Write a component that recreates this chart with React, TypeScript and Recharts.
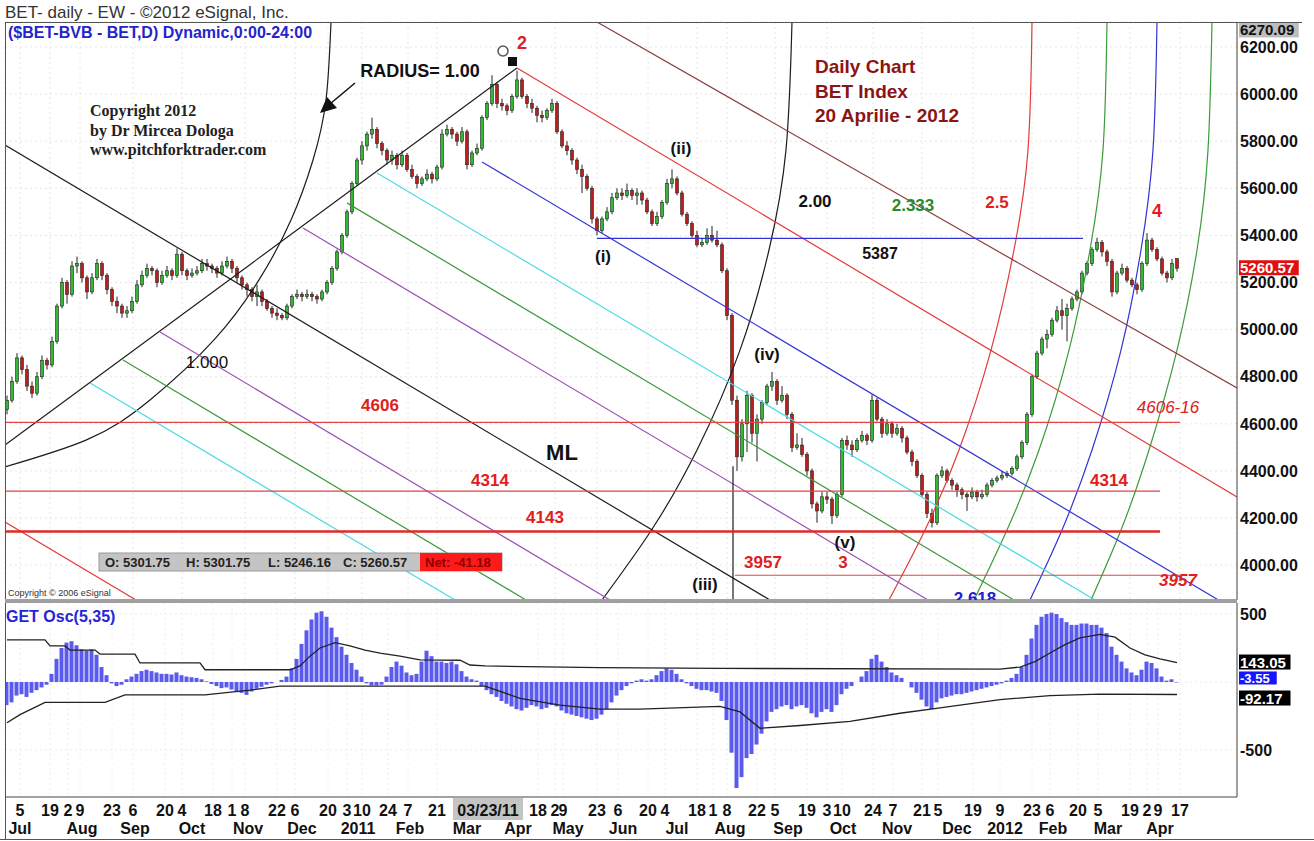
import React from 'react';
import { ComposedChart, Bar, Line, XAxis, YAxis, CartesianGrid, ReferenceDot } from 'recharts';

const FONT = 'Arial, "Liberation Sans", Helvetica, sans-serif';
const SERIF = '"Times New Roman", "Liberation Serif", serif';

// BET daily (one candle ~ two sessions): [open, high, low, close]
const candles2010 = [
  [4660, 4720, 4640, 4700], [4700, 4800, 4690, 4780], [4780, 4900, 4770, 4880], [4880, 4890, 4810, 4830], [4830, 4850, 4740, 4760],
  [4760, 4780, 4710, 4730], [4730, 4820, 4720, 4800], [4800, 4890, 4790, 4870], [4870, 4880, 4830, 4850], [4850, 4970, 4840, 4950],
  [4950, 5110, 4940, 5100], [5100, 5220, 5090, 5200], [5200, 5210, 5110, 5150], [5150, 5290, 5140, 5270], [5270, 5310, 5240, 5280],
  [5280, 5290, 5200, 5220], [5220, 5230, 5130, 5160], [5160, 5240, 5150, 5220], [5220, 5300, 5210, 5280], [5280, 5290, 5210, 5230],
  [5230, 5240, 5150, 5170], [5170, 5180, 5100, 5120], [5120, 5140, 5070, 5100], [5100, 5110, 5050, 5070], [5070, 5100, 5050, 5080],
  [5080, 5140, 5070, 5120], [5120, 5210, 5110, 5190], [5190, 5250, 5180, 5230], [5230, 5280, 5220, 5260], [5260, 5270, 5230, 5250],
  [5250, 5260, 5180, 5200], [5200, 5250, 5190, 5230], [5230, 5270, 5220, 5250], [5250, 5260, 5210, 5230], [5230, 5345, 5220, 5320],
  [5320, 5330, 5230, 5250], [5250, 5260, 5210, 5230], [5230, 5260, 5220, 5240], [5240, 5270, 5230, 5250], [5250, 5300, 5240, 5280],
  [5280, 5300, 5250, 5270], [5270, 5280, 5240, 5260], [5260, 5270, 5220, 5240], [5240, 5290, 5230, 5270], [5270, 5310, 5260, 5290],
  [5290, 5300, 5240, 5260], [5260, 5270, 5200, 5220], [5220, 5230, 5170, 5190], [5190, 5200, 5140, 5170], [5170, 5180, 5120, 5140],
  [5140, 5190, 5100, 5160], [5160, 5170, 5100, 5120], [5120, 5130, 5080, 5090], [5090, 5100, 5050, 5070], [5070, 5090, 5040, 5060],
  [5060, 5070, 5040, 5050], [5050, 5110, 5040, 5100], [5100, 5150, 5090, 5140], [5140, 5170, 5130, 5150], [5150, 5160, 5120, 5140],
];
const candles2011a = [
  [5140, 5170, 5130, 5150], [5150, 5160, 5120, 5140], [5140, 5150, 5110, 5130], [5130, 5170, 5120, 5160], [5160, 5210, 5150, 5200],
  [5200, 5270, 5190, 5260], [5260, 5340, 5250, 5330], [5330, 5410, 5320, 5400], [5400, 5510, 5390, 5500], [5500, 5630, 5490, 5620],
  [5620, 5730, 5610, 5720], [5720, 5800, 5700, 5780], [5780, 5840, 5760, 5830], [5830, 5900, 5810, 5850], [5850, 5860, 5770, 5790],
  [5790, 5800, 5740, 5760], [5760, 5770, 5700, 5720], [5720, 5760, 5700, 5740], [5740, 5750, 5680, 5700], [5700, 5760, 5690, 5740],
  [5740, 5750, 5670, 5680], [5680, 5700, 5640, 5650], [5650, 5660, 5600, 5620], [5620, 5650, 5610, 5640], [5640, 5680, 5630, 5660],
  [5660, 5670, 5620, 5640], [5640, 5700, 5630, 5690], [5690, 5850, 5680, 5830], [5830, 5870, 5820, 5850], [5850, 5860, 5810, 5830],
  [5830, 5840, 5780, 5800], [5800, 5860, 5790, 5840], [5840, 5850, 5680, 5700], [5700, 5760, 5690, 5750], [5750, 5790, 5740, 5770],
  [5770, 5910, 5760, 5900], [5900, 5970, 5890, 5960], [5960, 6080, 5950, 6040], [6040, 6050, 5940, 5960], [5960, 5980, 5930, 5950],
  [5950, 5960, 5910, 5930], [5930, 6000, 5920, 5990], [5990, 6100, 5980, 6060], [6060, 6070, 5980, 5990], [5990, 6000, 5940, 5960],
  [5960, 5980, 5920, 5940], [5940, 5950, 5880, 5910], [5910, 5930, 5880, 5900], [5900, 5940, 5890, 5930], [5930, 5980, 5920, 5960],
  [5960, 5970, 5830, 5840], [5840, 5850, 5770, 5780], [5780, 5800, 5740, 5760], [5760, 5770, 5700, 5720], [5720, 5730, 5660, 5680],
  [5680, 5700, 5580, 5650], [5650, 5660, 5590, 5600], [5600, 5610, 5450, 5470], [5470, 5480, 5400, 5420], [5420, 5480, 5410, 5470],
  [5470, 5520, 5460, 5500], [5500, 5580, 5490, 5560], [5560, 5600, 5550, 5580], [5580, 5600, 5550, 5570], [5570, 5620, 5560, 5590],
];
const candles2011b = [
  [5590, 5600, 5550, 5570], [5570, 5600, 5530, 5580], [5580, 5590, 5530, 5550], [5550, 5560, 5490, 5500], [5500, 5510, 5440, 5450],
  [5450, 5500, 5440, 5480], [5480, 5550, 5470, 5540], [5540, 5640, 5530, 5620], [5620, 5680, 5600, 5640], [5640, 5650, 5570, 5580],
  [5580, 5590, 5480, 5490], [5490, 5500, 5440, 5450], [5450, 5460, 5390, 5400], [5400, 5420, 5350, 5360], [5360, 5390, 5350, 5370],
  [5370, 5430, 5360, 5400], [5400, 5440, 5370, 5380], [5380, 5420, 5350, 5360], [5360, 5370, 5240, 5250], [5250, 5260, 5040, 5060],
  [5060, 5070, 4680, 4700], [4700, 4720, 4400, 4460], [4460, 4620, 4440, 4600], [4600, 4740, 4480, 4720], [4720, 4730, 4520, 4560],
  [4560, 4640, 4440, 4620], [4620, 4700, 4600, 4690], [4690, 4770, 4680, 4760], [4760, 4820, 4740, 4780], [4780, 4790, 4680, 4700],
  [4700, 4760, 4690, 4720], [4720, 4730, 4620, 4640], [4640, 4650, 4480, 4500], [4500, 4560, 4490, 4510], [4510, 4540, 4460, 4470],
  [4470, 4480, 4380, 4400], [4400, 4410, 4240, 4260], [4260, 4270, 4180, 4230], [4230, 4310, 4220, 4290], [4290, 4310, 4260, 4280],
  [4280, 4290, 4175, 4210], [4210, 4310, 4200, 4300], [4300, 4540, 4290, 4530], [4530, 4550, 4490, 4510], [4510, 4530, 4460, 4490],
  [4490, 4540, 4480, 4530], [4530, 4570, 4520, 4550], [4550, 4560, 4510, 4530], [4530, 4725, 4520, 4700], [4700, 4710, 4610, 4620],
  [4620, 4630, 4540, 4560], [4560, 4620, 4550, 4600], [4600, 4610, 4540, 4560], [4560, 4600, 4550, 4580], [4580, 4590, 4520, 4540],
  [4540, 4550, 4470, 4480], [4480, 4490, 4420, 4440], [4440, 4450, 4370, 4380], [4380, 4390, 4290, 4300], [4300, 4310, 4200, 4220],
  [4220, 4240, 4160, 4180], [4180, 4390, 4170, 4380], [4380, 4420, 4370, 4400], [4400, 4410, 4350, 4360], [4360, 4370, 4320, 4340],
  [4340, 4350, 4290, 4320], [4320, 4330, 4280, 4300], [4300, 4310, 4230, 4290], [4290, 4330, 4280, 4310], [4310, 4320, 4270, 4290],
  [4290, 4320, 4280, 4300], [4300, 4350, 4290, 4340], [4340, 4370, 4330, 4360],
];
const candles2012 = [
  [4360, 4380, 4350, 4370], [4370, 4400, 4360, 4380], [4380, 4400, 4370, 4390], [4390, 4420, 4380, 4410], [4410, 4470, 4400, 4460],
  [4460, 4530, 4450, 4520], [4520, 4650, 4510, 4640], [4640, 4810, 4630, 4800], [4800, 4910, 4790, 4900], [4900, 4970, 4890, 4960],
  [4960, 5000, 4920, 4980], [4980, 5050, 4970, 5040], [5040, 5100, 5030, 5080], [5080, 5130, 5000, 5060], [5060, 5110, 4950, 5090],
  [5090, 5140, 5080, 5130], [5130, 5170, 5120, 5160], [5160, 5250, 5150, 5240], [5240, 5290, 5230, 5280], [5280, 5350, 5270, 5340],
  [5340, 5390, 5330, 5370], [5370, 5380, 5310, 5330], [5330, 5340, 5270, 5290], [5290, 5300, 5140, 5160], [5160, 5250, 5150, 5240],
  [5240, 5280, 5230, 5260], [5260, 5270, 5200, 5210], [5210, 5220, 5180, 5190], [5190, 5200, 5150, 5170], [5170, 5290, 5160, 5280],
  [5280, 5410, 5270, 5380], [5380, 5390, 5330, 5340], [5340, 5350, 5290, 5300], [5300, 5310, 5230, 5240], [5240, 5250, 5200, 5220],
  [5220, 5300, 5210, 5280], [5301.75, 5301.75, 5246.16, 5260.57],
];

// GET Osc(5,35) histogram, same candle index
const oscValues = [
  -170, -150, -100, -90, -110, -80, -60, -40, -20, 60,
  170, 250, 290, 300, 270, 240, 230, 240, 200, 110,
  50, -10, -30, -20, 20, 40, 60, 80, 90, 80,
  70, 60, 60, 55, 70, 50, 40, 35, 30, 20,
  5, -15, -30, -45, -40, -55, -70, -80, -95, -70,
  -50, -35, -20, -10, 0, 15, 40, 100, 170, 280,
  380, 460, 510, 520, 480, 400, 330, 260, 200, 140,
  90, 40, -10, -25, -25, -20, 40, 110, 150, 120,
  70, 50, 60, 150, 230, 190, 150, 150, 140, 150,
  130, 80, 40, 20, 10, -30, -60, -90, -110, -140,
  -160, -180, -200, -210, -190, -170, -180, -200, -190, -170,
  -180, -210, -230, -240, -250, -260, -270, -280, -270, -240,
  -200, -150, -100, -60, -30, -10, 10, 20, 10, 20,
  50, 80, 100, 90, 60, 20, -10, -30, -50, -60,
  -60, -70, -80, -140, -280, -520, -780, -700, -560, -530,
  -460, -380, -290, -220, -200, -180, -170, -200, -180, -170,
  -190, -230, -260, -220, -200, -220, -170, -90, -50, -30,
  0, 40, 80, 170, 200, 150, 110, 70, 50, 30,
  0, -40, -80, -130, -180, -200, -150, -120, -110, -100,
  -90, -90, -80, -70, -60, -50, -40, -30, -20, -10,
  10, 30, 60, 110, 200, 320, 420, 480, 500, 510,
  500, 470, 440, 420, 420, 430, 430, 420, 420, 400,
  360, 260, 200, 150, 100, 70, 50, 90, 150, 140,
  100, 40, 10, 20, -3.55,
];
const upperBand = [
  [0, 310], [7.6, 310], [8.6, 265], [11.6, 265], [12.6, 235], [17.6, 235], [18.6, 205], [25.6, 205], [26.6, 140],
  [38.6, 140], [39.6, 90], [56.6, 90], [58.6, 118], [60.6, 190], [62.6, 250], [65.6, 290], [68.6, 265], [71.6, 235],
  [74.6, 213], [78.6, 190], [82.6, 162], [90.6, 160], [92.6, 125], [95.6, 118], [118.6, 105], [142.6, 100],
  [198.6, 95], [202.6, 110], [205.6, 150], [208.6, 213], [211.6, 275], [214.6, 325], [218.6, 350], [221.6, 330],
  [224.6, 250], [227.6, 200], [230.6, 170], [234, 143.05],
];
const lowerBand = [
  [0, -300], [2.6, -240], [7.6, -150], [19.6, -150], [23.6, -95], [39.6, -95], [48.6, -60], [54.6, -30], [95.6, -30],
  [102.6, -120], [110.6, -170], [118.6, -200], [126.6, -200], [142.6, -180], [146.6, -220], [150.6, -340],
  [158.6, -320], [168.6, -290], [178.6, -230], [186.6, -190], [198.6, -130], [208.6, -100], [218.6, -90], [234, -92.17],
];

const priceTicks = [4000, 4200, 4400, 4600, 4800, 5000, 5200, 5400, 5600, 5800, 6000, 6200];
const oscTicks = [500, -500];

const dayTicks: [number, string][] = [
  [2.6, '5'], [8.6, '19'], [12.2, '2'], [14.6, '9'], [21, '23'], [25.2, '6'], [31.6, '20'], [35, '4'], [41.2, '18'],
  [45, '1'], [47.6, '8'], [54, '22'], [57.6, '6'], [64.2, '20'], [68, '3'], [71, '10'], [76.2, '24'], [80.2, '7'],
  [86, '21'], [106.2, '18'], [109.6, '2'], [111.2, '9'], [118, '23'], [122.2, '6'], [128.2, '20'], [131.6, '4'],
  [138, '18'], [141.2, '1'], [144, '8'], [150, '22'], [153.6, '5'], [160, '19'], [164, '3'], [167, '10'],
  [173.2, '24'], [177.2, '7'], [183, '21'], [186.2, '5'], [193.2, '19'], [198.6, '9'], [205, '23'], [208.6, '6'],
  [214.2, '20'], [218.2, '5'], [224.6, '19'], [228, '2'], [230.2, '9'], [234.6, '17'],
];
const monthTicks: [number, string][] = [
  [2.6, 'Jul'], [15, 'Aug'], [25.6, 'Sep'], [37, 'Oct'], [48.2, 'Nov'], [59, 'Dec'], [70.2, '2011'], [80.6, 'Feb'],
  [92, 'Mar'], [102.2, 'Apr'], [112.2, 'May'], [123.2, 'Jun'], [134, 'Jul'], [144.6, 'Aug'], [156.2, 'Sep'],
  [167.2, 'Oct'], [178, 'Nov'], [190, 'Dec'], [199.6, '2012'], [209.2, 'Feb'], [220.2, 'Mar'], [230.6, 'Apr'],
];

// drawing tools, in [candle index, price]
const trendLines: { kind: string; pts: number[][] }[] = [
  { kind: 'black', pts: [[-0.4, 4510], [102, 6111]] },
  { kind: 'black', pts: [[-0.4, 5784], [152.6, 3852]] },
  { kind: 'red', pts: [[102, 6111], [246, 4289]] },
  { kind: 'brown', pts: [[118, 6306], [246, 4752]] },
  { kind: 'blue', pts: [[95, 5712], [246, 3805]] },
  { kind: 'cyan', pts: [[74, 5665], [217.6, 3852]] },
  { kind: 'green', pts: [[68, 5538], [201.4, 3852]] },
  { kind: 'purple', pts: [[59.2, 5431], [184.2, 3852]] },
  { kind: 'purple', pts: [[30.6, 4990], [120.6, 3852]] },
  { kind: 'green', pts: [[23.2, 4871], [103.8, 3852]] },
  { kind: 'cyan', pts: [[16.6, 4773], [89.6, 3852]] },
  { kind: 'red', pts: [[-0.4, 4183], [25.8, 3852]] },
  { kind: 'black', pts: [[145.2, 4420], [145.2, 3852]] },
];
const levels: { kind: string; price: number; from: number; to: number }[] = [
  { kind: 'level', price: 4606, from: -0.4, to: 234.6 },
  { kind: 'level', price: 4314, from: -0.4, to: 230.6 },
  { kind: 'levelBold', price: 4143, from: -0.4, to: 230.6 },
  { kind: 'level', price: 3957, from: 145.6, to: 234.6 },
  { kind: 'blue', price: 5387, from: 118, to: 215.2 },
];
const arcs: { kind: string; pts: number[][] }[] = [
  { kind: 'black', pts: [[64.8, 6306], [63.8, 5975], [61.2, 5720], [56.8, 5465], [50.4, 5211], [41.4, 4956], [28.6, 4701], [15.8, 4531], [-2.6, 4404]] },
  { kind: 'black', pts: [[157, 6306], [155.8, 5763], [152.4, 5338], [146.6, 4913], [138, 4489], [128.9, 4149], [119, 3852]] },
  { kind: 'red', pts: [[205, 6306], [204.2, 5763], [201.4, 5338], [196.8, 4913], [190.4, 4489], [183.6, 4149], [176.4, 3852]] },
  { kind: 'green', pts: [[220, 6306], [219.2, 5763], [216.6, 5338], [212.4, 4913], [206.4, 4489], [200, 4149], [193.4, 3852]] },
  { kind: 'blue', pts: [[230, 6306], [229.2, 5763], [226.8, 5338], [222.8, 4913], [217, 4489], [211, 4149], [204.6, 3852]] },
  { kind: 'green', pts: [[241, 6306], [240.2, 5763], [238, 5338], [234, 4913], [228.4, 4489], [222.8, 4149], [216.8, 3852]] },
];

const COLORS: Record<string, string> = {
  black: '#1c1c1c', red: '#e43a3a', brown: '#8e3c3c', blue: '#3333d6', cyan: '#4ad9e4',
  green: '#3b9b3b', purple: '#9b4fb8', level: '#e04444', levelBold: '#e02a2a',
};

const X_DOMAIN = [-0.4, 246];
const PRICE_DOMAIN = [3852, 6306];
const OSC_DOMAIN = [-846, 581];

const candles = [...candles2010, ...candles2011a, ...candles2011b, ...candles2012];
const priceData = candles.map(([o, h, l, c], i) => ({ i, o, h, l, c }));
const oscData = oscValues.map((v, i) => ({ i, v }));
const toPts = (pts: number[][]) => pts.map(([i, p]) => ({ i, p }));
const dayLabel = new Map(dayTicks);
const monthLabel = new Map(monthTicks);

function Candle(props: any) {
  const { x, y, width, height, payload } = props;
  if (!payload) return null;
  const top = Math.min(y, y + height);
  const full = Math.abs(height);
  const { o, h, l, c } = payload;
  const k = h > l ? full / (h - l) : 0;
  const yo = top + (h - o) * k;
  const yc = top + (h - c) * k;
  const mid = x + width / 2;
  return (
    <g>
      <line x1={mid} x2={mid} y1={top} y2={top + full} stroke="#222" strokeWidth={1} />
      <rect
        x={x}
        y={Math.min(yo, yc)}
        width={width}
        height={Math.max(1, Math.abs(yc - yo))}
        fill={c >= o ? '#33b833' : '#bf1c1c'}
        stroke="#222"
        strokeWidth={0.6}
      />
    </g>
  );
}

// value tag on the right axis; dy nudges crowded tags apart
const tag = (label: string, bg: string, fg: string, size = 15, dy = 0) => (p: any) => (
  <g>
    <rect x={p.cx + 2} y={p.cy + dy - size / 2 - 0.5} width={label.length * size * 0.55 + 2} height={size} fill={bg} />
    <text x={p.cx + 3} y={p.cy + dy + size / 3} fontSize={size} fontWeight={700} fill={fg} fontFamily={FONT}>
      {label}
    </text>
  </g>
);

type Note = { t: string; x: number; y: number; c?: string; s?: number; b?: boolean; it?: boolean; serif?: boolean; a?: 'start' | 'middle' };

const priceNotes: Note[] = [
  { t: '($BET-BVB - BET,D) Dynamic,0:00-24:00', x: 8, y: 32, c: '#2424cc', s: 16, a: 'start' },
  { t: 'Copyright 2012', x: 90, y: 110, c: '#222', s: 16, serif: true, a: 'start' },
  { t: 'by Dr Mircea Dologa', x: 90, y: 130, c: '#222', s: 16, serif: true, a: 'start' },
  { t: 'www.pitchforktrader.com', x: 90, y: 149, c: '#222', s: 16, serif: true, a: 'start' },
  { t: 'RADIUS= 1.00', x: 420, y: 71, s: 18 },
  { t: '2', x: 522, y: 43, c: '#e02020', s: 18 },
  { t: 'Daily Chart', x: 815, y: 66, c: '#8b1414', s: 19, a: 'start' },
  { t: 'BET Index', x: 815, y: 91, c: '#8b1414', s: 19, a: 'start' },
  { t: '20 Aprilie - 2012', x: 815, y: 115, c: '#8b1414', s: 19, a: 'start' },
  { t: '(ii)', x: 681, y: 148 },
  { t: '2.00', x: 815, y: 201 },
  { t: '2.333', x: 913, y: 205, c: '#2a8a2a' },
  { t: '2.5', x: 997, y: 202, c: '#e02020' },
  { t: '4', x: 1157, y: 211, c: '#e02020', s: 18 },
  { t: '(i)', x: 603, y: 256 },
  { t: '5387', x: 880, y: 253, s: 16 },
  { t: '1.000', x: 207, y: 362, s: 17, b: false },
  { t: '(iv)', x: 767, y: 354 },
  { t: '4606', x: 380, y: 405, c: '#e02020' },
  { t: '4606-16', x: 1168, y: 407, c: '#e02020', it: true, b: false },
  { t: 'ML', x: 562, y: 452, s: 22 },
  { t: '4314', x: 490, y: 480, c: '#e02020' },
  { t: '4314', x: 1109, y: 480, c: '#e02020' },
  { t: '4143', x: 545, y: 517, c: '#e02020' },
  { t: '(v)', x: 845, y: 542 },
  { t: '3957', x: 763, y: 562, c: '#e02020' },
  { t: '3', x: 843, y: 562, c: '#e02020' },
  { t: '3957', x: 1178, y: 580, c: '#e02020', it: true },
  { t: '(iii)', x: 705, y: 584 },
  { t: '2.618', x: 975, y: 598, c: '#2020d0' },
  { t: 'Copyright \u00a9 2006 eSignal', x: 8, y: 593, c: '#333', s: 9, b: false, a: 'start' },
];

const ohlcNotes: Note[] = [
  { t: 'O: 5301.75', x: 105, y: 562, s: 13, c: '#222', a: 'start' },
  { t: 'H: 5301.75', x: 186, y: 562, s: 13, c: '#222', a: 'start' },
  { t: 'L: 5246.16', x: 268, y: 562, s: 13, c: '#222', a: 'start' },
  { t: 'C: 5260.57', x: 343, y: 562, s: 13, c: '#222', a: 'start' },
  { t: 'Net: -41.18', x: 425, y: 562, s: 13, c: '#8a0000', a: 'start' },
];

function NoteText({ n }: { n: Note }) {
  return (
    <text
      x={n.x}
      y={n.y}
      fill={n.c ?? '#111'}
      fontSize={n.s ?? 17}
      fontWeight={n.b === false ? 400 : 700}
      fontStyle={n.it ? 'italic' : 'normal'}
      fontFamily={n.serif ? SERIF : FONT}
      textAnchor={n.a ?? 'middle'}
      dominantBaseline="central"
    >
      {n.t}
    </text>
  );
}

export default function App() {
  const axisTick = { fontSize: 16, fontWeight: 700, fill: '#111', fontFamily: FONT };
  return (
    <div style={{ position: 'absolute', left: 0, top: 0, width: 1314, height: 841, background: '#fff', overflow: 'hidden', fontFamily: FONT }}>
      <div style={{ position: 'absolute', left: 0, top: 0 }}>
        <ComposedChart width={1314} height={600} data={priceData} margin={{ top: 22, right: 0, bottom: 0, left: 5 }}>
          <CartesianGrid xAxisId="main" stroke="#e6e6e6" strokeDasharray="2 3" />
          <XAxis xAxisId="main" dataKey="i" type="number" domain={X_DOMAIN} allowDataOverflow hide ticks={dayTicks.map((d) => d[0])} />
          <XAxis xAxisId="ov" dataKey="i" type="number" domain={X_DOMAIN} allowDataOverflow hide />
          <YAxis
            orientation="right"
            width={77}
            domain={PRICE_DOMAIN}
            allowDataOverflow
            ticks={priceTicks}
            interval={0}
            tickFormatter={(v) => v.toFixed(2)}
            tick={axisTick}
            tickSize={0}
            tickMargin={3}
            axisLine={{ stroke: '#444' }}
          />
          {arcs.map((a, k) => (
            <Line key={'arc' + k} xAxisId="ov" data={toPts(a.pts)} dataKey="p" type="natural" stroke={COLORS[a.kind]} strokeWidth={1.2} dot={false} activeDot={false} isAnimationActive={false} />
          ))}
          {trendLines.map((t, k) => (
            <Line key={'tl' + k} xAxisId="ov" data={toPts(t.pts)} dataKey="p" type="linear" stroke={COLORS[t.kind]} strokeWidth={1.2} dot={false} activeDot={false} isAnimationActive={false} />
          ))}
          {levels.map((lv, k) => (
            <Line
              key={'lv' + k}
              xAxisId="ov"
              data={toPts([[lv.from, lv.price], [lv.to, lv.price]])}
              dataKey="p"
              type="linear"
              stroke={COLORS[lv.kind]}
              strokeWidth={lv.kind === 'levelBold' ? 2.6 : 1.2}
              dot={false}
              activeDot={false}
              isAnimationActive={false}
            />
          ))}
          <Bar xAxisId="main" dataKey={(d: any) => [d.l, d.h]} barSize={3} shape={<Candle />} isAnimationActive={false} />
          <ReferenceDot xAxisId="ov" x={246} y={6270.09} r={0} ifOverflow="visible" shape={tag('6270.09', '#bdbdbd', '#111')} />
          <ReferenceDot xAxisId="ov" x={246} y={5260.57} r={0} ifOverflow="visible" shape={tag('5260.57', '#e01010', '#fff')} />
        </ComposedChart>
      </div>

      <div style={{ position: 'absolute', left: 0, top: 600 }}>
        <ComposedChart width={1314} height={241} data={oscData} margin={{ top: 3, right: 0, bottom: 0, left: 5 }}>
          <CartesianGrid xAxisId="d" stroke="#ececec" strokeDasharray="2 3" horizontalValues={[500, 0, -500]} />
          <XAxis
            xAxisId="d"
            dataKey="i"
            type="number"
            domain={X_DOMAIN}
            allowDataOverflow
            ticks={dayTicks.map((d) => d[0])}
            interval={0}
            tickFormatter={(v) => dayLabel.get(v) ?? ''}
            tick={axisTick}
            tickSize={0}
            tickMargin={8}
            height={22}
            axisLine={{ stroke: '#444' }}
          />
          <XAxis
            xAxisId="m"
            dataKey="i"
            type="number"
            domain={X_DOMAIN}
            allowDataOverflow
            ticks={monthTicks.map((d) => d[0])}
            interval={0}
            tickFormatter={(v) => monthLabel.get(v) ?? ''}
            tick={axisTick}
            tickSize={0}
            tickMargin={4}
            height={22}
            axisLine={false}
          />
          <XAxis xAxisId="ov" dataKey="i" type="number" domain={X_DOMAIN} allowDataOverflow hide />
          <YAxis
            orientation="right"
            width={77}
            domain={OSC_DOMAIN}
            allowDataOverflow
            ticks={oscTicks}
            interval={0}
            tick={axisTick}
            tickSize={0}
            tickMargin={3}
            axisLine={{ stroke: '#444' }}
          />
          <Bar xAxisId="d" dataKey="v" barSize={4} fill="#5a5aee" isAnimationActive={false} />
          <Line xAxisId="ov" data={toPts(upperBand)} dataKey="p" type="linear" stroke="#222" strokeWidth={1.3} dot={false} activeDot={false} isAnimationActive={false} />
          <Line xAxisId="ov" data={toPts(lowerBand)} dataKey="p" type="linear" stroke="#222" strokeWidth={1.3} dot={false} activeDot={false} isAnimationActive={false} />
          <ReferenceDot xAxisId="ov" x={246} y={-3.55} r={0} ifOverflow="visible" shape={tag('-3.55', '#1515ff', '#fff', 13, -4)} />
          <ReferenceDot xAxisId="ov" x={246} y={143.05} r={0} ifOverflow="visible" shape={tag('143.05', '#000', '#fff')} />
          <ReferenceDot xAxisId="ov" x={246} y={-92.17} r={0} ifOverflow="visible" shape={tag('-92.17', '#000', '#fff', 15, 4)} />
        </ComposedChart>
      </div>

      <svg width={1314} height={841} style={{ position: 'absolute', left: 0, top: 0, pointerEvents: 'none' }}>
        <defs>
          <clipPath id="pricePanel">
            <rect x={5} y={22} width={1232} height={578} />
          </clipPath>
        </defs>
        <text x={5} y={12} fontSize={17} fill="#333" fontFamily={FONT} dominantBaseline="central">
          BET- daily - EW - ©2012 eSignal, Inc.
        </text>
        <line x1={5} x2={1302} y1={22.5} y2={22.5} stroke="#555" />
        <line x1={5.5} x2={5.5} y1={22} y2={839} stroke="#555" />
        <rect x={5} y={599} width={1232} height={4} fill="#a0a0a0" />
        <line x1={0} x2={1314} y1={839.5} y2={839.5} stroke="#555" />

        <g clipPath="url(#pricePanel)">
          {priceNotes.map((n, k) => (
            <NoteText key={k} n={n} />
          ))}
          <rect x={99} y={553} width={403} height={18} fill="#c4c4c4" stroke="#9a9a9a" />
          <rect x={420} y={553} width={82} height={18} fill="#ff1a1a" />
          {ohlcNotes.map((n, k) => (
            <NoteText key={'o' + k} n={n} />
          ))}
          <line x1={355} y1={83} x2={330} y2={104} stroke="#111" strokeWidth={1.5} />
          <polygon points="320,113 327,97 337,108" fill="#111" />
          <circle cx={503} cy={51} r={5} fill="#fff" stroke="#555" strokeWidth={1.5} />
          <rect x={508} y={57} width={9} height={9} fill="#111" />
        </g>
        <NoteText n={{ t: 'GET Osc(5,35)', x: 6, y: 616, c: '#2424d8', s: 16, a: 'start' }} />
        <rect x={453} y={798} width={70} height={22} fill="#c4c4c4" />
        <NoteText n={{ t: '03/23/11', x: 488, y: 810, s: 16 }} />
      </svg>
    </div>
  );
}
